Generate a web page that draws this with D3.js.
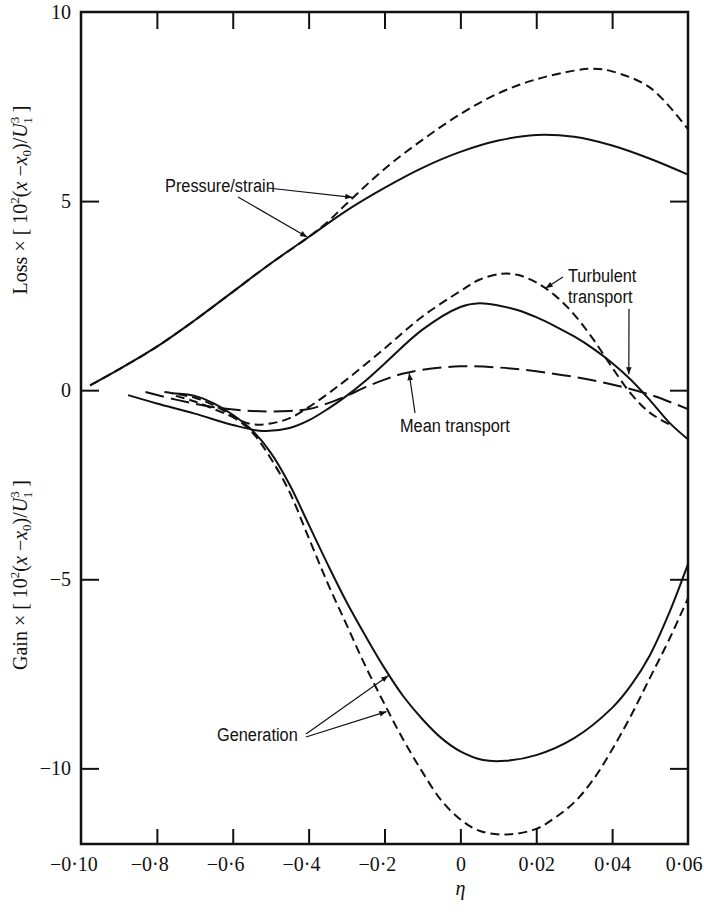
<!DOCTYPE html>
<html>
<head>
<meta charset="utf-8">
<script src="https://cdn.jsdelivr.net/npm/d3@7"></script>
<style>
  html, body { margin: 0; padding: 0; background: #fff; }
  svg { display: block; }
  .tick text { font-family: "Liberation Serif", "DejaVu Serif", serif; font-size: 20px; fill: #111; }
  .note { font-family: "Liberation Sans", "Arial", sans-serif; font-size: 19px; fill: #111; }
</style>
</head>
<body>
<script>
// η positions of the axis ticks and the labels printed under them
const etaTicks = [-0.10, -0.08, -0.06, -0.04, -0.02, 0, 0.02, 0.04, 0.06];
const etaTickLabels = ["\u22120\u00b710", "\u22120\u00b78", "\u22120\u00b76", "\u22120\u00b74", "\u22120\u00b72", "0", "0\u00b702", "0\u00b704", "0\u00b706"];
const valueTicks = [10, 5, 0, -5, -10];
const valueTickLabels = ["10", "5", "0", "\u22125", "\u221210"];

// energy balance terms, [η, value]
const pressureStrainSolid = [
  [-0.0976, 0.13], [-0.09, 0.55], [-0.08, 1.15], [-0.07, 1.85], [-0.06, 2.6],
  [-0.05, 3.35], [-0.04, 4.05], [-0.03, 4.75], [-0.02, 5.35], [-0.01, 5.88],
  [0.0, 6.3], [0.01, 6.6], [0.02, 6.75], [0.03, 6.7], [0.04, 6.47], [0.05, 6.12], [0.06, 5.7]
];
const pressureStrainDashed = [
  [-0.0976, 0.13], [-0.09, 0.55], [-0.08, 1.15], [-0.07, 1.85], [-0.06, 2.6],
  [-0.05, 3.35], [-0.04, 4.05], [-0.035, 4.45], [-0.03, 4.93], [-0.02, 5.85], [-0.01, 6.62],
  [0.0, 7.3], [0.01, 7.85], [0.02, 8.22], [0.03, 8.45], [0.035, 8.5], [0.04, 8.43],
  [0.05, 8.0], [0.06, 6.9]
];
const turbulentSolid = [
  [-0.0876, -0.13], [-0.08, -0.35], [-0.07, -0.62], [-0.06, -0.92], [-0.052, -1.08],
  [-0.045, -1.0], [-0.04, -0.8], [-0.035, -0.5], [-0.03, -0.15], [-0.025, 0.25],
  [-0.02, 0.7], [-0.01, 1.6], [0.0, 2.2], [0.005, 2.3], [0.01, 2.24], [0.015, 2.12],
  [0.02, 1.93], [0.025, 1.69], [0.03, 1.42], [0.035, 1.1], [0.04, 0.72], [0.045, 0.27],
  [0.05, -0.27], [0.055, -0.85], [0.06, -1.3]
];
const turbulentDashed = [
  [-0.075, -0.15], [-0.07, -0.3], [-0.062, -0.62], [-0.055, -0.9], [-0.05, -0.88],
  [-0.045, -0.74], [-0.04, -0.45], [-0.035, -0.1], [-0.03, 0.28], [-0.02, 1.1],
  [-0.01, 1.95], [0.0, 2.62], [0.005, 2.92], [0.011, 3.08], [0.015, 3.05], [0.02, 2.85],
  [0.025, 2.5], [0.03, 2.0], [0.035, 1.35], [0.04, 0.6], [0.045, -0.1], [0.05, -0.6], [0.055, -0.9]
];
const meanTransport = [
  [-0.083, -0.05], [-0.075, -0.25], [-0.065, -0.45], [-0.055, -0.55], [-0.045, -0.55],
  [-0.04, -0.5], [-0.035, -0.35], [-0.03, -0.15], [-0.025, 0.08], [-0.02, 0.28],
  [-0.015, 0.44], [-0.01, 0.54], [0.0, 0.63], [0.01, 0.6], [0.02, 0.5], [0.03, 0.35],
  [0.04, 0.15], [0.05, -0.12], [0.06, -0.5]
];
const generationSolid = [
  [-0.076, -0.08], [-0.07, -0.15], [-0.065, -0.35], [-0.06, -0.65], [-0.055, -1.05],
  [-0.05, -1.65], [-0.045, -2.5], [-0.04, -3.55], [-0.035, -4.6], [-0.03, -5.6],
  [-0.025, -6.5], [-0.02, -7.35], [-0.015, -8.1], [-0.01, -8.7], [-0.005, -9.2],
  [0.0, -9.55], [0.006, -9.78], [0.012, -9.8], [0.02, -9.65], [0.03, -9.2],
  [0.04, -8.4], [0.045, -7.8], [0.05, -7.0], [0.055, -5.9], [0.06, -4.6]
];
const generationDashed = [
  [-0.078, -0.05], [-0.07, -0.2], [-0.065, -0.4], [-0.06, -0.7], [-0.055, -1.1],
  [-0.05, -1.8], [-0.045, -2.7], [-0.04, -3.9], [-0.035, -5.1], [-0.03, -6.2],
  [-0.025, -7.3], [-0.02, -8.3], [-0.015, -9.25], [-0.01, -10.1], [-0.005, -10.85],
  [0.0, -11.35], [0.005, -11.65], [0.012, -11.75], [0.02, -11.6], [0.025, -11.3],
  [0.03, -10.9], [0.035, -10.3], [0.04, -9.5], [0.045, -8.6], [0.05, -7.6],
  [0.055, -6.6], [0.06, -5.5]
];

const W = 704, H = 922;
const box = { left: 81, right: 688, top: 12, bottom: 844 };

const x = d3.scaleLinear().domain([-0.10, 0.06]).range([box.left, box.right]);
const y = d3.scaleLinear().domain([-12, 10]).range([box.bottom, box.top]);

const svg = d3.select("body").append("svg").attr("width", W).attr("height", H);

const defs = svg.append("defs");
defs.append("marker")
  .attr("id", "head").attr("viewBox", "0 0 10 10")
  .attr("refX", 10).attr("refY", 5)
  .attr("markerWidth", 9).attr("markerHeight", 7)
  .attr("markerUnits", "userSpaceOnUse")
  .attr("orient", "auto")
  .append("path").attr("d", "M0,1 L10,5 L0,9 Z").attr("fill", "#111");

// frame
svg.append("rect")
  .attr("x", box.left).attr("y", box.top)
  .attr("width", box.right - box.left).attr("height", box.bottom - box.top)
  .attr("fill", "none").attr("stroke", "#111").attr("stroke-width", 2.5);

const innerEta = etaTicks.slice(1, -1);
const innerVal = valueTicks.slice(1);
const fmtEta = d => etaTickLabels[etaTicks.indexOf(d)];
const fmtVal = d => valueTickLabels[valueTicks.indexOf(d)];

function styleAxis(g) {
  g.select(".domain").remove();
  g.selectAll(".tick line").attr("stroke", "#111").attr("stroke-width", 2);
}

// bottom labels: the digits sit centred on the tick, a minus sign hangs to the left
const bottomLabels = svg.append("g").attr("transform", `translate(0,${box.bottom})`)
  .call(d3.axisBottom(x).tickValues(etaTicks).tickSize(0).tickPadding(13).tickFormat(fmtEta))
  .call(styleAxis);
bottomLabels.selectAll(".tick text").each(function (d) {
  const t = this;
  let dx = 0;
  if (t.textContent.startsWith("\u2212")) {
    dx = -(t.getSubStringLength(0, 1) / 2 + 2);
  }
  // keep the last label inside the page
  const half = t.getComputedTextLength() / 2;
  const overflow = x(d) + dx + half - (W - 2);
  if (overflow > 0) dx -= overflow;
  d3.select(t).attr("dx", dx);
});
// bottom and top tick marks
svg.append("g").attr("transform", `translate(0,${box.bottom})`)
  .call(d3.axisBottom(x).tickValues(innerEta).tickSize(-15).tickFormat(""))
  .call(styleAxis);
svg.append("g").attr("transform", `translate(0,${box.top})`)
  .call(d3.axisTop(x).tickValues(innerEta).tickSize(-17).tickFormat(""))
  .call(styleAxis);
// left labels and ticks
svg.append("g").attr("transform", `translate(${box.left},0)`)
  .call(d3.axisLeft(y).tickValues(valueTicks).tickSize(0).tickPadding(10).tickFormat(fmtVal))
  .call(styleAxis);
svg.append("g").attr("transform", `translate(${box.left},0)`)
  .call(d3.axisLeft(y).tickValues(innerVal).tickSize(-18).tickFormat(""))
  .call(styleAxis);
svg.append("g").attr("transform", `translate(${box.right},0)`)
  .call(d3.axisRight(y).tickValues(innerVal).tickSize(-18).tickFormat(""))
  .call(styleAxis);

// curves
const line = d3.line().x(d => x(d[0])).y(d => y(d[1])).curve(d3.curveCatmullRom.alpha(0.5));
const plot = svg.append("g").attr("fill", "none").attr("stroke", "#111").attr("stroke-width", 2);
const series = [
  { data: pressureStrainSolid, dash: null },
  { data: pressureStrainDashed, dash: "9,5" },
  { data: turbulentSolid, dash: null },
  { data: turbulentDashed, dash: "9,5" },
  { data: meanTransport, dash: "19,7" },
  { data: generationSolid, dash: null },
  { data: generationDashed, dash: "9,5" }
];
series.forEach(s => {
  plot.append("path").attr("d", line(s.data)).attr("stroke-dasharray", s.dash);
});

// annotations
const notes = svg.append("g");
function note(txt, px, py) {
  notes.append("text").attr("class", "note")
    .attr("transform", `translate(${px},${py}) scale(0.86,1)`)
    .text(txt);
}
function arrow(x1, y1, ex, ey) {
  notes.append("line")
    .attr("x1", x1).attr("y1", y1).attr("x2", x(ex)).attr("y2", y(ey))
    .attr("stroke", "#111").attr("stroke-width", 1.2).attr("marker-end", "url(#head)");
}

note("Pressure/strain", 165, 192);
arrow(268, 188, -0.0285, 5.1);
arrow(238, 197, -0.0404, 4.05);

note("Turbulent", 568, 282);
note("transport", 568, 303);
arrow(563, 277, 0.0225, 2.7);
arrow(629, 309, 0.0444, 0.42);

note("Mean transport", 400, 432);
arrow(415, 413, -0.0135, 0.45);

note("Generation", 217, 741);
arrow(306, 734, -0.019, -7.55);
arrow(306, 737, -0.0195, -8.5);

// axis titles
svg.append("text")
  .attr("x", x(0)).attr("y", 895).attr("text-anchor", "middle")
  .attr("font-family", "Liberation Serif, serif").attr("font-style", "italic")
  .attr("font-size", 20).attr("fill", "#111").text("\u03b7");

function yTitle(word, cy) {
  const t = svg.append("text")
    .attr("transform", `translate(27,${cy}) rotate(-90)`)
    .attr("text-anchor", "middle")
    .attr("font-family", "Liberation Serif, serif")
    .attr("font-size", 20).attr("fill", "#111");
  t.append("tspan").text(word + " \u00d7 [ 10");
  t.append("tspan").attr("font-size", 13).attr("dy", -8).text("2");
  t.append("tspan").attr("dy", 8).text("(");
  t.append("tspan").attr("font-style", "italic").text("x");
  t.append("tspan").text(" \u2212");
  t.append("tspan").attr("font-style", "italic").text("x");
  t.append("tspan").attr("font-size", 13).attr("dy", 4).text("0");
  t.append("tspan").attr("dy", -4).text(")/");
  t.append("tspan").attr("font-style", "italic").text("U");
  t.append("tspan").attr("font-size", 13).attr("dy", -8).text("3");
  t.append("tspan").attr("font-size", 13).attr("dx", -7).attr("dy", 13).text("1");
  t.append("tspan").attr("dy", -5).text(" ]");
}
yTitle("Loss", 200);
yTitle("Gain", 575);
</script>
</body>
</html>
